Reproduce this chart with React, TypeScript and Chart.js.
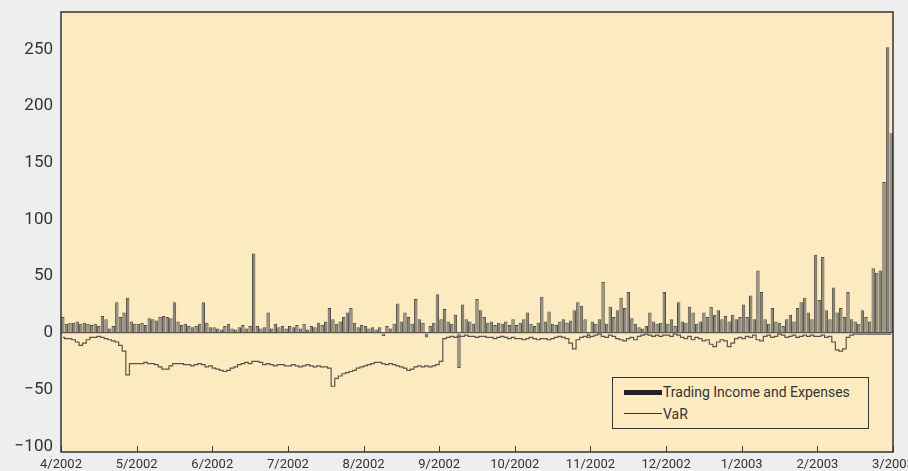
import React, { useEffect, useRef } from 'react';
import { Chart, registerables } from 'chart.js';

Chart.register(...registerables);

const monthLabels = ['4/2002', '5/2002', '6/2002', '7/2002', '8/2002', '9/2002', '10/2002', '11/2002', '12/2002', '1/2003', '2/2003', '3/2003'];
const yTickValues = [-100, -50, 0, 50, 100, 150, 200, 250];
const DAYS_PER_MONTH = 21;

// Trading income and expenses (daily), per month
const tradingApr02 = [14, 8, 9, 9, 10, 8, 9, 8, 7, 8, 6, 15, 12, 4, 6, 27, 14, 18, 31, 10, 8];
const tradingMay02 = [8, 9, 7, 13, 12, 11, 14, 15, 14, 13, 27, 10, 7, 8, 6, 5, 6, 8, 27, 9, 5];
const tradingJun02 = [5, 4, 3, 6, 8, 4, 3, 5, 7, 4, 6, 70, 6, 4, 5, 18, 4, 8, 5, 6, 4];
const tradingJul02 = [6, 5, 7, 4, 8, 3, 6, 5, 9, 7, 10, 22, 12, 8, 10, 14, 18, 22, 9, 5, 7];
const tradingAug02 = [6, 4, 5, 3, 5, -3, 6, 4, 8, 26, 10, 18, 14, 8, 30, 12, 9, -4, 6, 9, 34];
const tradingSep02 = [12, 21, 10, 8, 16, -31, 25, 12, 10, 8, 30, 20, 14, 9, 10, 7, 9, 8, 10, 7, 12];
const tradingOct02 = [7, 9, 12, 18, 8, 6, 9, 32, 10, 19, 8, 7, 10, 12, 9, 11, 20, 27, 24, 12, -3];
const tradingNov02 = [10, 8, 12, 45, 8, 23, 14, 20, 31, 22, 36, 13, 8, 5, 4, 6, 18, 10, 8, 9, 36];
const tradingDec02 = [8, 12, 6, 27, 10, 9, 23, 18, 8, 10, 18, 14, 23, 16, 20, 12, 15, 10, 16, 12, 14];
const tradingJan03 = [25, 14, 33, 12, 55, 36, 12, 8, 22, 10, 9, 6, 12, 16, 10, 22, 27, 31, 18, 12, 69];
const tradingFeb03 = [29, 67, 20, 12, 40, 18, 22, 14, 36, 12, 10, 8, 20, 14, 10, 57, 53, 55, 133, 252, 176];

// Value at Risk (daily), per month
const varApr02 = [-4, -5, -5, -6, -8, -11, -9, -6, -4, -4, -3, -4, -5, -6, -7, -8, -11, -16, -37, -27, -27];
const varMay02 = [-27, -27, -26, -27, -27, -28, -30, -32, -32, -29, -27, -27, -27, -28, -28, -29, -28, -27, -28, -30, -29];
const varJun02 = [-31, -32, -33, -34, -33, -31, -30, -28, -27, -26, -27, -25, -25, -26, -28, -27, -28, -29, -28, -28, -29];
const varJul02 = [-29, -28, -29, -30, -29, -28, -29, -30, -29, -30, -30, -31, -47, -40, -38, -36, -35, -34, -33, -31, -30];
const varAug02 = [-29, -28, -27, -26, -26, -27, -28, -27, -28, -29, -30, -31, -33, -32, -30, -29, -30, -29, -30, -29, -28];
const varSep02 = [-25, -5, -4, -3, -4, -3, -3, -2, -3, -3, -4, -3, -3, -4, -4, -5, -4, -3, -4, -5, -4];
const varOct02 = [-5, -5, -6, -5, -4, -5, -6, -5, -5, -6, -5, -4, -3, -4, -5, -9, -14, -6, -4, -3, -4];
const varNov02 = [-3, -2, -1, -3, -4, -2, -3, -5, -6, -7, -5, -4, -6, -3, -2, -1, -2, -3, -2, -3, -2];
const varDec02 = [-2, -3, -1, -2, -4, -5, -3, -6, -4, -5, -7, -6, -10, -12, -8, -6, -7, -12, -9, -5, -4];
const varJan03 = [-5, -3, -4, -2, -6, -7, -3, -2, -4, -3, -1, -2, -4, -3, -2, -4, -3, -2, -3, -2, -3];
const varFeb03 = [-3, -2, -4, -3, -8, -15, -16, -14, -4, -2, -1, -1, -1, -1, -1, -1, -1, -1, -1, -1, -1];

const tradingValues = [
  ...tradingApr02, ...tradingMay02, ...tradingJun02, ...tradingJul02, ...tradingAug02, ...tradingSep02,
  ...tradingOct02, ...tradingNov02, ...tradingDec02, ...tradingJan03, ...tradingFeb03,
];
const varValues = [
  ...varApr02, ...varMay02, ...varJun02, ...varJul02, ...varAug02, ...varSep02,
  ...varOct02, ...varNov02, ...varDec02, ...varJan03, ...varFeb03,
];

const PLOT_BG = '#fcebc0';
const PAGE_BG = '#eeeeee';
const FONT = 'Roboto, "Open Sans", sans-serif';

const framePlugin = {
  id: 'frame',
  beforeDraw(chart: any) {
    const { ctx, chartArea } = chart;
    const { left, top, right, bottom } = chartArea;
    ctx.save();
    ctx.fillStyle = PLOT_BG;
    ctx.fillRect(left, top, right - left, bottom - top);
    ctx.restore();
  },
  afterDraw(chart: any) {
    const { ctx, chartArea, scales } = chart;
    const { left, top, right, bottom } = chartArea;
    ctx.save();
    ctx.strokeStyle = '#3a3a3a';
    ctx.lineWidth = 1;
    const xs = scales.x;
    xs.ticks.forEach((t: any) => {
      const px = Math.round(xs.getPixelForValue(t.value)) + 0.5;
      ctx.beginPath();
      ctx.moveTo(px, bottom);
      ctx.lineTo(px, bottom - 6);
      ctx.stroke();
    });
    ctx.lineWidth = 1.5;
    ctx.strokeStyle = '#333333';
    ctx.strokeRect(left, top, right - left, bottom - top);
    ctx.restore();
  },
};

export default function App() {
  const canvasRef = useRef<HTMLCanvasElement | null>(null);

  useEffect(() => {
    document.body.style.margin = '0';
    document.body.style.background = PAGE_BG;
    const canvas = canvasRef.current;
    if (!canvas) return;
    const barData = tradingValues.map((v, i) => ({ x: i + 0.5, y: v }));
    const lineData = varValues.map((v, i) => ({ x: i + 0.5, y: v }));
    const chart = new Chart(canvas, {
      type: 'bar',
      data: {
        datasets: [
          {
            type: 'line',
            label: 'VaR',
            data: lineData,
            borderColor: '#58554d',
            borderWidth: 1.2,
            pointRadius: 0,
            stepped: 'middle',
            fill: false,
            order: 0,
          } as any,
          {
            type: 'bar',
            label: 'Trading Income and Expenses',
            data: barData,
            backgroundColor: '#8a877e',
            borderColor: '#4e4c47',
            borderWidth: 1,
            barPercentage: 0.95,
            categoryPercentage: 1,
            order: 1,
          } as any,
        ],
      },
      options: {
        responsive: false,
        animation: false,
        devicePixelRatio: 1,
        layout: { padding: { left: 0, right: 37, top: 12, bottom: 0 } },
        plugins: {
          legend: { display: false },
          tooltip: { enabled: false },
        },
        scales: {
          x: {
            type: 'linear',
            offset: false,
            min: 0,
            max: DAYS_PER_MONTH * (monthLabels.length - 1),
            grid: { display: false, drawTicks: false, offset: false },
            border: { display: false },
            afterBuildTicks: (scale: any) => {
              scale.ticks = monthLabels.map((_, i) => ({ value: i * DAYS_PER_MONTH }));
            },
            afterFit: (scale: any) => {
              scale.height = 19;
              scale.paddingLeft = 0;
              scale.paddingRight = 0;
            },
            ticks: {
              autoSkip: false,
              maxRotation: 0,
              padding: 5,
              color: '#333333',
              font: { family: FONT, size: 13 },
              callback: (value: any) => monthLabels[Math.round(Number(value) / DAYS_PER_MONTH)],
            },
          },
          y: {
            type: 'linear',
            min: -105,
            max: 283,
            grid: {
              drawTicks: false,
              color: (c: any) => (c.tick && c.tick.value === 0 ? '#55534d' : 'rgba(0,0,0,0)'),
              lineWidth: 1.2,
            },
            border: { display: false },
            afterBuildTicks: (scale: any) => {
              scale.ticks = yTickValues.map((v) => ({ value: v }));
            },
            afterFit: (scale: any) => {
              scale.width = 61;
              scale.paddingTop = 0;
              scale.paddingBottom = 0;
            },
            ticks: {
              padding: 8,
              color: '#333333',
              font: { family: FONT, size: 17 },
              callback: (value: any) => (Number(value) < 0 ? '\u2212' + Math.abs(Number(value)) : String(value)),
            },
          },
        },
      },
      plugins: [framePlugin],
    });
    return () => chart.destroy();
  }, []);

  return (
    <div style={{ position: 'fixed', left: 0, top: 0, width: 908, height: 471, overflow: 'hidden', background: PAGE_BG }}>
      <div style={{ position: 'absolute', left: 0, top: 0, width: 930, height: 471 }}>
        <canvas ref={canvasRef} width={930} height={471} style={{ display: 'block' }} />
        <div
          style={{
            position: 'absolute',
            left: 612,
            top: 377,
            width: 255,
            height: 50,
            border: '1px solid #333',
            background: PLOT_BG,
            fontFamily: FONT,
            fontSize: 14,
            color: '#333',
          }}
        >
          <div style={{ position: 'absolute', left: 11, top: 12, width: 38, height: 5, background: '#222' }} />
          <div style={{ position: 'absolute', left: 50, top: 5, lineHeight: '18px', whiteSpace: 'nowrap' }}>Trading Income and Expenses</div>
          <div style={{ position: 'absolute', left: 11, top: 35, width: 38, height: 1, background: '#333' }} />
          <div style={{ position: 'absolute', left: 50, top: 27, lineHeight: '18px', whiteSpace: 'nowrap' }}>VaR</div>
        </div>
      </div>
    </div>
  );
}
